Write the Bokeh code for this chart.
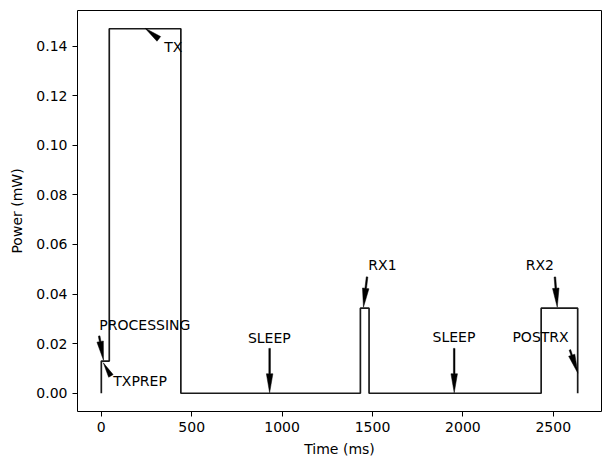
import math
from bokeh.plotting import figure
from bokeh.models import Range1d, FixedTicker, PrintfTickFormatter, ColumnDataSource
from bokeh.embed import file_html
from bokeh.resources import INLINE
from bokeh.core.properties import value

# ---- data: power profile as step boundaries (ms) and levels (mW) ----
step_t = [0, 0, 44, 440, 1433, 1481, 2433, 2635]
step_p = [0.0, 0.0130, 0.1470, 0.0, 0.0343, 0.0, 0.0343, 0.0]

# ---- annotations ----
labels = ["TX", "PROCESSING", "TXPREP", "SLEEP", "RX1", "SLEEP", "RX2", "POSTRX"]
tip_x = [242, 12, 11, 931, 1450, 1952, 2522, 2636]
tip_y = [0.1472, 0.0133, 0.0123, 0.0002, 0.0347, 0.0002, 0.0347, 0.0081]
tail_x = [318, -12, 53, 931, 1470, 1952, 2509, 2592]
tail_y = [0.1429, 0.0231, 0.0070, 0.0181, 0.0469, 0.0181, 0.0469, 0.0175]
text_x = [348, -11, 66, 811, 1477, 1832, 2348, 2274]
text_y = [0.1395, 0.0276, 0.0048, 0.0223, 0.0518, 0.0226, 0.0518, 0.0226]

x_ticks = [0, 500, 1000, 1500, 2000, 2500]
y_ticks = [0.0, 0.02, 0.04, 0.06, 0.08, 0.10, 0.12, 0.14]

t_max = max(step_t)
p_max = max(step_p)
x0, x1 = -0.05 * t_max, 1.05 * t_max
y0, y1 = -0.05 * p_max, 1.05 * p_max

FW, FH = 524, 401
FONT = "DejaVu Sans"

p = figure(frame_width=FW, frame_height=FH, output_backend="svg",
           toolbar_location=None, x_range=Range1d(x0, x1), y_range=Range1d(y0, y1),
           min_border_left=77, min_border_right=7, min_border_top=10, min_border_bottom=10)
p.background_fill_color = "white"
p.border_fill_color = "white"
p.outline_line_color = "black"
p.outline_line_width = 1
p.grid.visible = False

for ax in (p.xaxis[0], p.yaxis[0]):
    ax.major_tick_out = 5
    ax.major_tick_in = 0
    ax.minor_tick_line_color = None
    ax.axis_line_color = None
    ax.major_tick_line_color = "black"
    ax.major_label_text_font = FONT
    ax.major_label_text_font_size = "14px"
    ax.major_label_text_color = "black"
    ax.axis_label_text_font = FONT
    ax.axis_label_text_font_size = "14px"
    ax.axis_label_text_font_style = "normal"
    ax.axis_label_text_color = "black"
    ax.major_label_standoff = 5

p.xaxis.ticker = FixedTicker(ticks=x_ticks)
p.yaxis.ticker = FixedTicker(ticks=y_ticks)
p.yaxis.formatter = PrintfTickFormatter(format="%.2f")
p.xaxis.axis_label = "Time (ms)"
p.yaxis.axis_label = "Power (mW)"
p.xaxis.axis_label_standoff = 6
p.yaxis.axis_label_standoff = 8

p.step(step_t, step_p, mode="after", line_color="#1a1a1a", line_width=1.7)

# arrows: built in pixel space, converted back to data units
sx = FW / (x1 - x0)
sy = FH / (y1 - y0)
H, W, S = 19.0, 6.5, 1.6
xs, ys = [], []
for tx, ty, px_, py_ in zip(tail_x, tail_y, tip_x, tip_y):
    dx = (px_ - tx) * sx
    dy = (py_ - ty) * sy
    L = math.hypot(dx, dy)
    ux, uy = dx / L, dy / L
    nx, ny = -uy, ux
    if L <= H:
        w = W * L / H
        pts = [(0, 0), (nx * w / 2, ny * w / 2), (dx, dy), (-nx * w / 2, -ny * w / 2)]
    else:
        bx, by = dx - ux * H, dy - uy * H
        pts = [(nx * S / 2, ny * S / 2),
               (bx + nx * S / 2, by + ny * S / 2),
               (bx + nx * W / 2, by + ny * W / 2),
               (dx, dy),
               (bx - nx * W / 2, by - ny * W / 2),
               (bx - nx * S / 2, by - ny * S / 2),
               (-nx * S / 2, -ny * S / 2)]
    xs.append([tx + a / sx for a, b in pts])
    ys.append([ty + b / sy for a, b in pts])
p.patches(xs, ys, fill_color="black", line_color="black", line_width=0.5)

src = ColumnDataSource(dict(x=text_x, y=text_y, t=labels))
p.text(x="x", y="y", text="t", source=src, text_font=value(FONT),
       text_font_size="14px", text_color="black", text_align="left",
       text_baseline="alphabetic")

open("out.html", "w").write(file_html(p, INLINE))
